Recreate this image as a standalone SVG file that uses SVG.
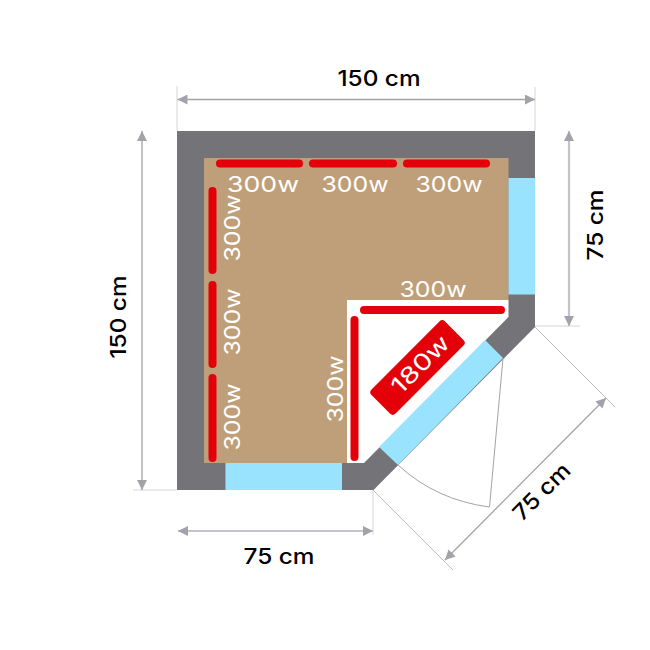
<svg xmlns="http://www.w3.org/2000/svg" width="650" height="650" viewBox="0 0 650 650">
<style>
text{font-family:"Inter","Liberation Sans",sans-serif;font-size:22px;text-anchor:middle}
.w{fill:#fff}
.k{fill:#000;font-weight:500}
.bar{fill:#e30009}
.glass{fill:#9ae3fe}
.ext{fill:none;stroke:#d6d6d8;stroke-width:1}
.extd{fill:none;stroke:#a9a9ac;stroke-width:.8}
.dim{fill:none;stroke:#a3a2a8;stroke-width:1.3}
.dimt{fill:none;stroke:#c4c3c8;stroke-width:2.2}
.ah{fill:#a3a2a8}
</style>
<defs>
<marker id="a" markerUnits="userSpaceOnUse" markerWidth="11" markerHeight="10" refX="10" refY="5" orient="auto-start-reverse"><path class="ah" d="M0 0L10 5L0 10Z"/></marker>
</defs>
<g id="sauna">
<path fill="#747378" d="M177 131H535V327L373.500 490H177Z"/>
<path fill="#bf9f79" d="M204 158H508.500V300H347V463H204Z"/>
<path fill="#fff" d="M347 300H508.500V317L364 463H347Z"/>
<rect class="glass" x="508.500" y="178" width="26.500" height="116.500"/>
<rect class="glass" x="225.500" y="463" width="116.500" height="27"/>
<path class="glass" d="M485 340L503 358L398 465L379 447Z"/>
</g>
<g id="door" fill="none" stroke="#a3a2a8" stroke-width="1">
<path d="M503 358L489.500 507Q436 500 398 465"/>
</g>
<g id="heaters">
<rect class="bar" x="216" y="159.500" width="87" height="8" rx="4"/>
<rect class="bar" x="309" y="159.500" width="88" height="8" rx="4"/>
<rect class="bar" x="403" y="159.500" width="87" height="8" rx="4"/>
<rect class="bar" x="208.500" y="187" width="8" height="87" rx="4"/>
<rect class="bar" x="208.500" y="281" width="8" height="87" rx="4"/>
<rect class="bar" x="208.500" y="374" width="8" height="88" rx="4"/>
<rect class="bar" x="360" y="306" width="145" height="8" rx="4"/>
<rect class="bar" x="350.500" y="316" width="8" height="145" rx="4"/>
<rect class="bar" x="-52" y="-17" width="104" height="34" rx="4" transform="translate(417.500 367.500) rotate(-45)"/>
</g>
<g id="heater-labels">
<text class="w" x="263" y="191.500" textLength="72" lengthAdjust="spacingAndGlyphs">300w</text>
<text class="w" x="355" y="191.500" textLength="67" lengthAdjust="spacingAndGlyphs">300w</text>
<text class="w" x="449" y="191.500" textLength="67" lengthAdjust="spacingAndGlyphs">300w</text>
<text class="w" x="433" y="296.500" textLength="67" lengthAdjust="spacingAndGlyphs">300w</text>
<text class="w" transform="translate(239.500 228) rotate(-90)" textLength="67" lengthAdjust="spacingAndGlyphs">300w</text>
<text class="w" transform="translate(239.500 322) rotate(-90)" textLength="67" lengthAdjust="spacingAndGlyphs">300w</text>
<text class="w" transform="translate(239.500 417) rotate(-90)" textLength="67" lengthAdjust="spacingAndGlyphs">300w</text>
<text class="w" transform="translate(342.500 389) rotate(-90)" textLength="67" lengthAdjust="spacingAndGlyphs">300w</text>
<text class="w" style="font-size:23px" transform="translate(426 370) rotate(-45)" textLength="72" lengthAdjust="spacingAndGlyphs">180w</text>
</g>
<g id="connectors">
<path class="ext" d="M177 86V131M535 87V131M133 490H177M535 326H580M373 490V535"/>
<path class="extd" d="M535 327L615 407M373 490L453 570"/>
<path class="dim" marker-start="url(#a)" marker-end="url(#a)" d="M177.500 99.500H535"/>
<path class="dim" marker-start="url(#a)" marker-end="url(#a)" d="M142 131V490"/>
<path class="dimt" marker-start="url(#a)" marker-end="url(#a)" d="M569 131V326"/>
<path class="dimt" marker-start="url(#a)" marker-end="url(#a)" d="M178 531H373"/>
<path class="dim" marker-start="url(#a)" marker-end="url(#a)" d="M445 560L606 398"/>
</g>
<g id="dimension-labels">
<text class="k" x="379" y="86" textLength="83" lengthAdjust="spacingAndGlyphs">150 cm</text>
<text class="k" transform="translate(125.500 317) rotate(-90)" textLength="83" lengthAdjust="spacingAndGlyphs">150 cm</text>
<text class="k" transform="translate(602.500 225) rotate(-90)" textLength="71" lengthAdjust="spacingAndGlyphs">75 cm</text>
<text class="k" x="279" y="564" textLength="71" lengthAdjust="spacingAndGlyphs">75 cm</text>
<text class="k" transform="translate(547 497) rotate(-45)" textLength="71" lengthAdjust="spacingAndGlyphs">75 cm</text>
</g>
</svg>
